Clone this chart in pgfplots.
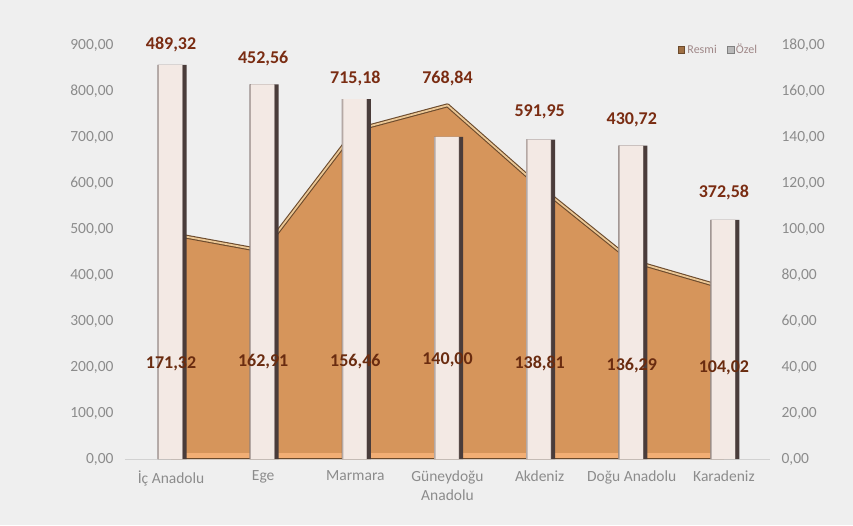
\documentclass[border=0pt]{standalone}
\usepackage{pgfplots}
\pgfplotsset{compat=1.18}
\usepackage{fontspec}
\setmainfont{Carlito}
\definecolor{bg}{HTML}{EFEFEF}
\definecolor{tickgray}{HTML}{8C8C8C}
\definecolor{axisgray}{HTML}{D2D2D2}
\definecolor{areacol}{HTML}{D6955B}
\definecolor{stripcol}{HTML}{F2AE74}
\definecolor{darkline}{HTML}{6B4A2C}
\definecolor{lightline}{HTML}{EBC795}
\definecolor{bardark}{HTML}{4A3C3A}
\definecolor{baredge}{HTML}{B4A8A4}
\definecolor{barmid}{HTML}{F3E9E4}
\definecolor{labred}{HTML}{7A2C12}
\definecolor{labbrown}{HTML}{6A2C10}
\definecolor{legtext}{HTML}{A08888}
\begin{document}
\begin{tikzpicture}
\fill[bg] (-125pt,-66pt) rectangle (728pt,459pt);
\begin{axis}[
  scale only axis, width=645pt, height=414pt,
  xmin=-0.5, xmax=6.5, ymin=0, ymax=900,
  xtick={0,...,6},
  xticklabels={İç Anadolu, Ege, Marmara, {Güneydoğu\\Anadolu}, Akdeniz, Doğu Anadolu, Karadeniz},
  xticklabel style={align=center, font=\fontsize{15.5}{19}\selectfont, text=tickgray, yshift=-8pt},
  ytick={0,100,...,900},
  yticklabel style={font=\fontsize{15.5}{16}\selectfont, text=tickgray, xshift=-8pt},
  /pgf/number format/.cd, fixed, fixed zerofill, precision=2, use comma, 1000 sep={}, assume math mode=true,
  /pgfplots/.cd,
  axis x line*=bottom, axis y line*=left,
  x axis line style={draw=axisgray, -},
  y axis line style={draw=none},
  tick style={draw=none},
]
\addplot[fill=areacol, draw=none] coordinates {(0,489.32) (1,452.56) (2,715.18) (3,768.84) (4,591.95) (5,430.72) (6,372.58)} \closedcycle;
\addplot[fill=stripcol, draw=none] coordinates {(0,0) (0,12) (6,12) (6,0)};
\addplot[draw=darkline, line width=1.1pt, double=lightline, double distance=1.8pt, line join=round] coordinates {(0,489.32) (1,452.56) (2,715.18) (3,768.84) (4,591.95) (5,430.72) (6,372.58)};
\addplot[draw=darkline, line width=1pt] coordinates {(0,2) (6,2)};
\end{axis}
\begin{axis}[
  scale only axis, width=645pt, height=414pt,
  xmin=-0.5, xmax=6.5, ymin=0, ymax=180,
  axis x line=none, axis y line*=right,
  y axis line style={draw=none, -},
  tick style={draw=none},
  ytick={0,20,...,180},
  yticklabel style={font=\fontsize{15.5}{16}\selectfont, text=tickgray, xshift=8pt},
  /pgf/number format/.cd, fixed, fixed zerofill, precision=2, use comma, 1000 sep={}, assume math mode=true,
  /pgfplots/.cd,
  legend style={at={(0.988,1.012)}, anchor=north east, draw=none, fill=none,
    font=\fontsize{12}{13}\selectfont, text=legtext, legend columns=2,
    /tikz/every even column/.append style={column sep=8pt}},
  legend image code/.code={\draw[#1] (0cm,-0.12cm) rectangle (0.24cm,0.12cm);},
]
\addplot[forget plot, ybar, bar width=29pt, bar shift=1pt, fill=bardark, draw=none] coordinates {(0,171.32) (1,162.91) (2,156.46) (3,140.00) (4,138.81) (5,136.29) (6,104.02)};
\addplot[forget plot, ybar, bar width=25pt, bar shift=-1pt, fill=baredge, draw=none] coordinates {(0,171.32) (1,162.91) (2,156.46) (3,140.00) (4,138.81) (5,136.29) (6,104.02)};
\addplot[forget plot, ybar, bar width=23pt, bar shift=-0.5pt, fill=barmid, draw=none] coordinates {(0,171.32) (1,162.91) (2,156.46) (3,140.00) (4,138.81) (5,136.29) (6,104.02)};
\addplot[forget plot, draw=none, mark=none, point meta=explicit symbolic, nodes near coords,
  nodes near coords style={font=\fontsize{18}{19}\selectfont\bfseries, text=labred, anchor=center}]
  coordinates {(0,180) [489,32] (1,174.3) [452,56] (2,165.6) [715,18] (3,165.6) [768,84] (4,150.9) [591,95] (5,147.4) [430,72] (6,116) [372,58]};
\addplot[forget plot, draw=none, mark=none, point meta=explicit symbolic, nodes near coords,
  nodes near coords style={font=\fontsize{18}{19}\selectfont\bfseries, text=labbrown, anchor=center}]
  coordinates {(0,41.5) [171,32] (1,42.3) [162,91] (2,42.3) [156,46] (3,43) [140,00] (4,41.5) [138,81] (5,40.5) [136,29] (6,39.5) [104,02]};
\addlegendimage{fill=areacol!75!black, draw=darkline, line width=1pt}
\addlegendentry{Resmi}
\addlegendimage{fill=gray!55, draw=gray}
\addlegendentry{Özel}
\end{axis}
\end{tikzpicture}
\end{document}
